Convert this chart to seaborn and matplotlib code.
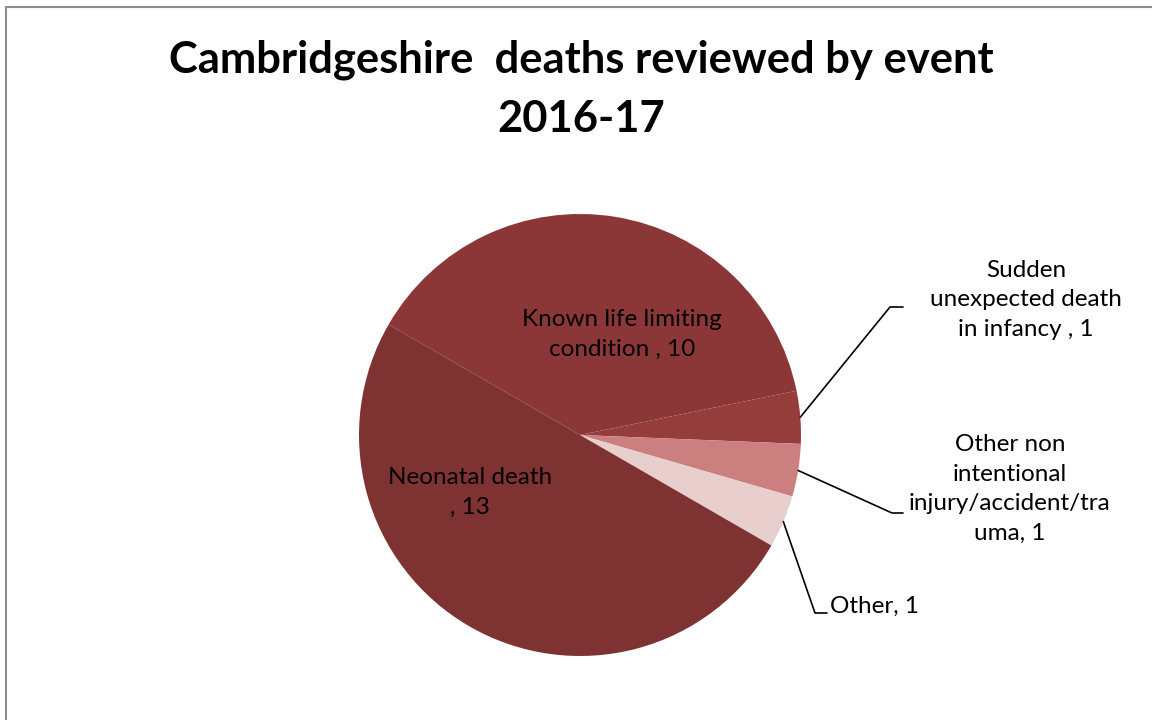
import numpy as np
import matplotlib
matplotlib.use("Agg")
import matplotlib.pyplot as plt
import seaborn as sns
from matplotlib.patches import Rectangle

# data, clockwise from the upper-left boundary
labels = [
    "Known life limiting\ncondition , 10",
    "Sudden\nunexpected death\nin infancy , 1",
    "Other non\nintentional\ninjury/accident/tra\numa, 1",
    "Other, 1",
    "Neonatal death\n, 13",
]
counts = [10, 1, 1, 1, 13]
colors = ["#8B3737", "#943D3B", "#CB7F7E", "#E8CECD", "#7F3232"]

title = "Cambridgeshire  deaths reviewed by event\n2016-17"

sns.set_theme(style="white")
plt.rcParams["font.family"] = ["Lato", "DejaVu Sans"]
plt.rcParams["text.color"] = "black"

W, H = 1152, 720
fig = plt.figure(figsize=(W / 100, H / 100), dpi=100)
ax = fig.add_axes([0, 0, 1, 1])

# chart border (only left and top visible in the reference)
ax.add_patch(Rectangle((5.5, -10), W + 20, H - 7 + 10, fill=False,
                       edgecolor="#8c8c8c", linewidth=1.5))

cx, cy, r = 580, H - 435, 221
wedges, _ = ax.pie(counts, colors=colors, startangle=150, counterclock=False,
                   center=(cx, cy), radius=r, frame=True,
                   wedgeprops=dict(linewidth=0))
ax.set_xlim(0, W)
ax.set_ylim(0, H)
ax.axis("off")

fs = 17.5
ls = 1.52

# inside labels
ax.text(622, H - 334, labels[0], ha="center", va="center", fontsize=fs,
        linespacing=ls)
ax.text(470, H - 492, labels[4], ha="center", va="center", fontsize=fs,
        linespacing=ls)

# outside labels with leader lines
outside = [
    (1, (890, H - 307), (903, H - 307), (1026, H - 300), "center"),
    (2, (892, H - 513), (903, H - 513), (1010, H - 489), "center"),
    (3, (815, H - 613), (827, H - 613), (830, H - 606), "left"),
]
for i, elbow, end, tpos, ha in outside:
    w = wedges[i]
    mid = np.deg2rad((w.theta1 + w.theta2) / 2)
    start = (cx + r * np.cos(mid), cy + r * np.sin(mid))
    ax.plot([start[0], elbow[0], end[0]], [start[1], elbow[1], end[1]],
            color="black", linewidth=1.2)
    ax.text(tpos[0], tpos[1], labels[i], ha=ha, va="center", fontsize=fs,
            linespacing=ls)

ax.text(581, H - 89, title, ha="center", va="center", fontsize=31.3,
        fontweight="bold", linespacing=1.58)

fig.savefig("out.png", dpi=100)
